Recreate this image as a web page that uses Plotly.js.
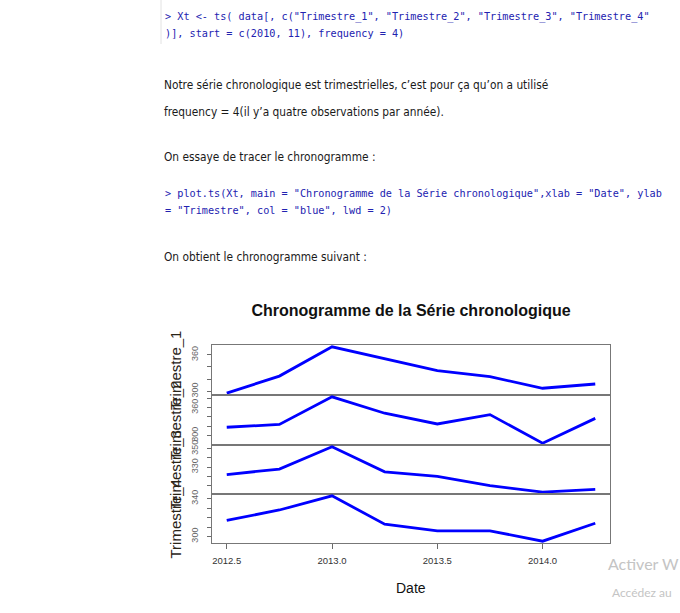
<!DOCTYPE html>
<html>
<head>
<meta charset="utf-8">
<script src="https://cdn.plot.ly/plotly-3.0.1.min.js"></script>
<style>
  html, body { margin: 0; padding: 0; background: #ffffff; }
  #chart { width: 680px; height: 613px; }
</style>
</head>
<body>
<div id="chart"></div>
<script>
// ---- Data ----
const dates = [2012.5, 2012.75, 2013.0, 2013.25, 2013.5, 2013.75, 2014.0, 2014.25];
const trimestre1 = [297, 325, 373, 354, 334, 324, 305, 312];
const trimestre2 = [318, 324, 383, 348, 325, 345, 284, 337];
const trimestre3 = [322, 328, 352, 325, 320, 310, 303, 306];
const trimestre4 = [317, 328, 343, 313, 306, 306, 295, 314];
const seriesNames = ['Trimestre_1', 'Trimestre_2', 'Trimestre_3', 'Trimestre_4'];

const xTickVals = [2012.5, 2013.0, 2013.5, 2014.0];
const xTickText = ['2012.5', '2013.0', '2013.5', '2014.0'];
const yTickVals1 = [300, 320, 340, 360];
const yTickText1 = ['300', '', '', '360'];
const yTickVals2 = [300, 320, 340, 360, 380];
const yTickText2 = ['300', '', '', '360', ''];
const yTickVals3 = [310, 320, 330, 340, 350];
const yTickText3 = ['', '', '330', '', '350'];
const yTickVals4 = [300, 310, 320, 330, 340];
const yTickText4 = ['300', '', '', '', '340'];

const chartTitle = 'Chronogramme de la Série chronologique';
const xTitle = 'Date';

const docLines = {
  code1: '> Xt <- ts( data[, c("Trimestre_1", "Trimestre_2", "Trimestre_3", "Trimestre_4"',
  code2: ')], start = c(2010, 11), frequency = 4)',
  prose1: 'Notre série chronologique est trimestrielles, c’est pour ça qu’on a utilisé',
  prose2: 'frequency = 4(il y’a quatre observations par année).',
  prose3: 'On essaye de tracer le chronogramme :',
  code3: '> plot.ts(Xt, main = "Chronogramme de la Série chronologique",xlab = "Date", ylab',
  code4: '= "Trimestre", col = "blue", lwd = 2)',
  prose4: 'On obtient le chronogramme suivant :',
  wm1: 'Activer W',
  wm2: 'Accédez au'
};

// ---- Layout helpers ----
const W = 680, H = 613;
const px = v => v / W;
const py = v => 1 - v / H;
const xDomain = [px(212), px(610)];
const bounds = [345, 395, 445, 494, 543]; // panel edges (pixels from top)

function rRange(vals) {
  const mn = Math.min(...vals), mx = Math.max(...vals);
  const pad = 0.04 * (mx - mn);
  return [mn - pad, mx + pad];
}
const xr = rRange(dates);

const series = [trimestre1, trimestre2, trimestre3, trimestre4];
const yTV = [yTickVals1, yTickVals2, yTickVals3, yTickVals4];
const yTT = [yTickText1, yTickText2, yTickText3, yTickText4];

const traces = series.map((s, i) => ({
  x: dates, y: s, type: 'scatter', mode: 'lines',
  name: seriesNames[i],
  xaxis: i === 0 ? 'x' : 'x' + (i + 1),
  yaxis: i === 0 ? 'y' : 'y' + (i + 1),
  line: { color: '#0000ff', width: 2.8 },
  hoverinfo: 'skip'
}));

const layout = {
  width: W, height: H,
  margin: { l: 0, r: 0, t: 0, b: 0 },
  paper_bgcolor: '#ffffff', plot_bgcolor: '#ffffff',
  showlegend: false,
  font: { family: 'Liberation Sans, Arial, sans-serif', color: '#222' },
  title: {
    text: '<b>' + chartTitle + '</b>',
    x: px(411), xanchor: 'center', xref: 'paper',
    y: py(310), yanchor: 'middle', yref: 'paper',
    font: { family: 'Liberation Sans, Arial, sans-serif', size: 16, color: '#111' }
  },
  annotations: [],
  shapes: [
    { type: 'line', xref: 'paper', yref: 'paper', x0: px(161), x1: px(161), y0: py(0), y1: py(44),
      line: { color: '#e2e2e2', width: 1 } }
  ]
};

for (let i = 0; i < 4; i++) {
  const xa = i === 0 ? 'xaxis' : 'xaxis' + (i + 1);
  const ya = i === 0 ? 'yaxis' : 'yaxis' + (i + 1);
  const xid = i === 0 ? 'x' : 'x' + (i + 1);
  const yid = i === 0 ? 'y' : 'y' + (i + 1);
  const isBottom = i === 3;
  layout[xa] = {
    domain: xDomain, range: xr, anchor: yid,
    showgrid: false, zeroline: false,
    showline: true, mirror: true, linecolor: '#777777', linewidth: 1.4,
    tickmode: 'array', tickvals: xTickVals, ticktext: xTickText,
    ticks: isBottom ? 'outside' : '', ticklen: 5, tickcolor: '#6a6a6a',
    showticklabels: isBottom,
    ticklabelstandoff: 3,
    tickfont: { family: 'Liberation Sans, Arial, sans-serif', size: 9.5, color: '#333' }
  };
  if (i > 0) layout[xa].matches = 'x';
  layout[ya] = {
    domain: [py(bounds[i + 1]), py(bounds[i])],
    range: rRange(series[i]), anchor: xid,
    showgrid: false, zeroline: false,
    showline: true, mirror: true, linecolor: '#777777', linewidth: 1.4,
    tickmode: 'array', tickvals: yTV[i], ticktext: yTT[i],
    ticks: 'outside', ticklen: 4, tickcolor: '#6a6a6a',
    tickangle: -90, ticklabelstandoff: 5,
    tickfont: { family: 'Liberation Sans, Arial, sans-serif', size: 9, color: '#666' }
  };
  // y title for each panel (they overlap, as in the original)
  layout.annotations.push({
    text: seriesNames[i], xref: 'paper', yref: 'paper',
    x: px(175), y: py((bounds[i] + bounds[i + 1]) / 2),
    xanchor: 'center', yanchor: 'middle', textangle: -90, showarrow: false,
    font: { family: 'Liberation Sans, Arial, sans-serif', size: 15, color: '#2a2418' }
  });
}

// x title
layout.annotations.push({
  text: xTitle, xref: 'paper', yref: 'paper', x: px(411), y: py(588),
  xanchor: 'center', yanchor: 'middle', showarrow: false,
  font: { family: 'Liberation Sans, Arial, sans-serif', size: 14, color: '#111' }
});

// Document text around the chart
const codeFont = { family: 'DejaVu Sans Mono, Liberation Mono, monospace', size: 10.2, color: '#2222b0' };
const proseFont = { family: 'Liberation Sans Narrow, DejaVu Sans Condensed, Lato, sans-serif', size: 11.8, color: '#1a1a1a' };
const wmFont1 = { family: 'Lato, Open Sans, sans-serif', size: 16, color: '#c4c4c4' };
const wmFont2 = { family: 'Lato, Open Sans, sans-serif', size: 12, color: '#c4c4c4' };
const docItems = [
  [docLines.code1, 163, 17, codeFont],
  [docLines.code2, 163, 33, codeFont],
  [docLines.prose1, 162, 85, proseFont],
  [docLines.prose2, 162, 112, proseFont],
  [docLines.prose3, 162, 157, proseFont],
  [docLines.code3, 163, 193, codeFont],
  [docLines.code4, 163, 210, codeFont],
  [docLines.prose4, 162, 257, proseFont],
  [docLines.wm1, 606, 563, wmFont1],
  [docLines.wm2, 610, 592, wmFont2]
];
docItems.forEach(([t, x, y, f]) => {
  layout.annotations.push({
    text: t, xref: 'paper', yref: 'paper', x: px(x), y: py(y),
    xanchor: 'left', yanchor: 'middle', showarrow: false, font: f
  });
});

Plotly.newPlot('chart', traces, layout, { staticPlot: true, displayModeBar: false });
</script>
</body>
</html>
